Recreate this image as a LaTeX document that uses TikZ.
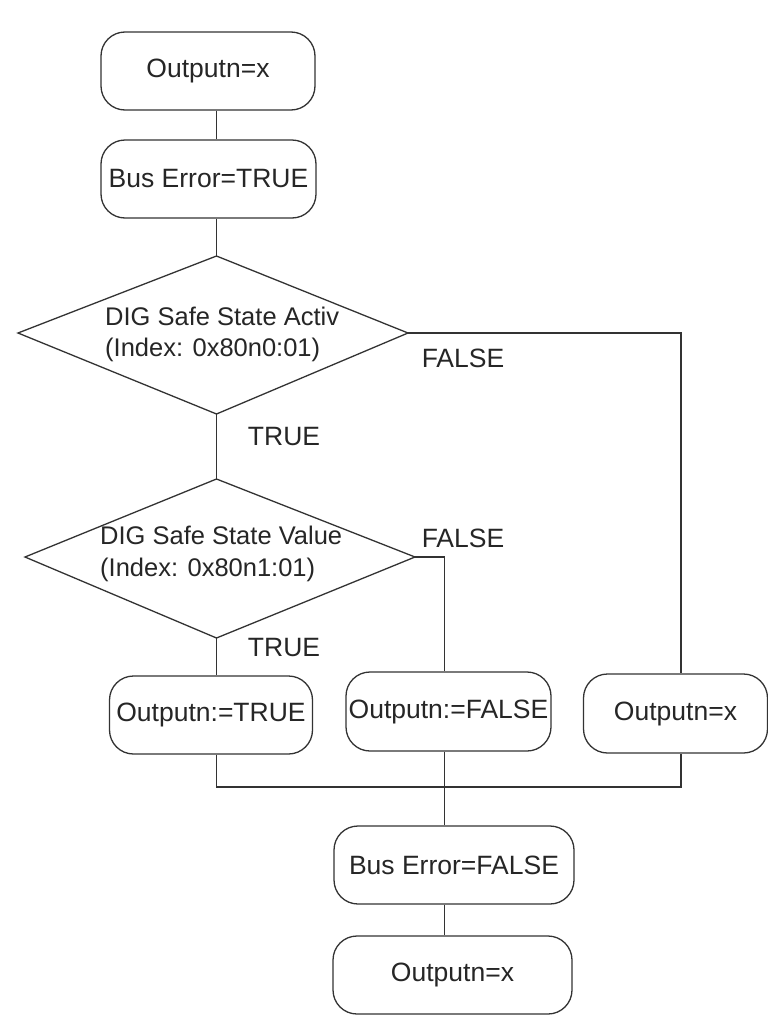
\documentclass[tikz,border=0pt]{standalone}
\usepackage{fontspec}
\setmainfont{Liberation Sans}
\begin{document}
\begin{tikzpicture}[x=1pt,y=-1pt,
  linec/.style={draw=black!80},
  box/.style={linec, line width=1.3pt, rounded corners=24pt, inner sep=0pt,
    minimum height=78pt, text=black!85, font=\fontsize{26.5}{31}\selectfont},
  lbl/.style={inner sep=0pt, text=black!85, font=\fontsize{26.5}{31}\selectfont},
  dtext/.style={inner sep=0pt, text=black!85, font=\fontsize{25.5}{31.5}\selectfont, align=left, anchor=west},
  conn/.style={linec, line width=1.3pt},
  dshape/.style={linec, line width=1.3pt, line join=miter}]
\useasboundingbox[fill=white] (0,0) rectangle (768,1028);

% boxes
\node[box, minimum width=214pt] (b1) at (208,71) {Outputn=x};
\node[box, minimum width=215pt] (b2) at (208.5,179) {Bus Error=TRUE};

% decision 1
\coordinate (d1t) at (216.5,256);
\coordinate (d1r) at (408,333);
\coordinate (d1b) at (216.5,414);
\coordinate (d1l) at (18,333);
\draw[dshape] (d1t) -- (d1r) -- (d1b) -- (d1l) -- cycle;
\node[dtext] (d1txt) at (105,334.5) {DIG Safe State Activ\\(Index: 0x80n0:01)};

% decision 2
\coordinate (d2t) at (216.5,479);
\coordinate (d2r) at (415,557);
\coordinate (d2b) at (216.5,638);
\coordinate (d2l) at (25,557);
\draw[dshape] (d2t) -- (d2r) -- (d2b) -- (d2l) -- cycle;
\node[dtext] (d2txt) at (100,554) {DIG Safe State Value\\(Index: 0x80n1:01)};

% middle row
\node[box, minimum width=203pt] (bt) at (211,715) {Outputn:=TRUE};
\node[box, minimum width=205pt, minimum height=79pt] (bf) at (448.5,711.5) {Outputn:=FALSE};
\node[box, minimum width=184pt, minimum height=79pt] (bx) at (675.5,713.5) {Outputn=x};

% bottom
\node[box, minimum width=240pt] (be) at (454,865) {Bus Error=FALSE};
\node[box, minimum width=239pt] (bo) at (452.5,975) {Outputn=x};

% labels
\node[lbl] (f1) at (463,358) {FALSE};
\node[lbl] (t1) at (284,437) {TRUE};
\node[lbl] (f2) at (463,538) {FALSE};
\node[lbl] (t2) at (284,648) {TRUE};

% connectors
\draw[conn] (d1t |- b1.south) -- (d1t |- b2.north);
\draw[conn] (d1t |- b2.south) -- (d1t);
\draw[conn] (d1b) -- (d2t);
\coordinate (rx) at (681,333);
\draw[conn] (d1r) -- (rx) -- (rx |- bx.north);
\coordinate (fx) at (444.5,557);
\draw[conn] (d2r) -- (fx) -- (fx |- bf.north);
\draw[conn] (d2b) -- (d2b |- bt.north);
\coordinate (mj) at (444.5,787);
\draw[conn] (d2b |- bt.south) -- (d2b |- mj) -- (rx |- mj) -- (rx |- bx.south);
\draw[conn] (fx |- bf.south) -- (fx |- be.north);
\draw[conn] (fx |- be.south) -- (fx |- bo.north);
\end{tikzpicture}
\end{document}
